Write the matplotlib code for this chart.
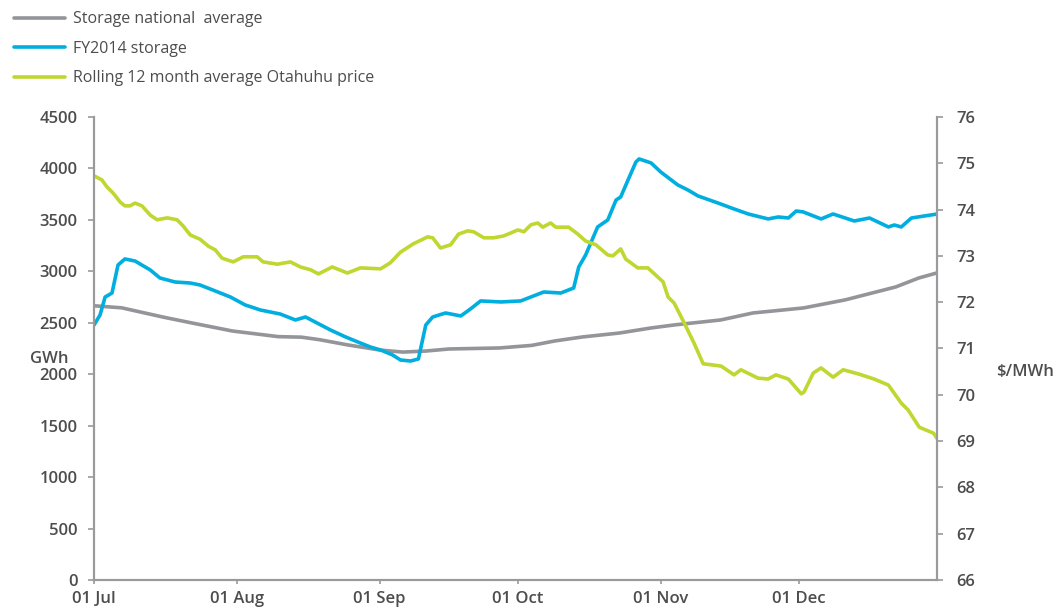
import pandas as pd
import matplotlib
matplotlib.use("Agg")
import matplotlib.pyplot as plt
import matplotlib.dates as mdates

plt.rcParams['font.family'] = ['Open Sans', 'DejaVu Sans']

start = pd.Timestamp('2013-07-01')

# storage national average (GWh)
avg_days = [0, 6, 15, 21, 30, 40, 45, 49, 55, 62, 67, 72, 77, 88, 95, 100, 106, 114,
            121, 126, 136, 143, 154, 163, 174, 179, 183]
avg_gwh = [2665, 2645, 2555, 2500, 2420, 2365, 2360, 2335, 2285, 2235, 2215, 2225, 2245,
           2255, 2280, 2323, 2362, 2400, 2450, 2479, 2527, 2595, 2644, 2722, 2848, 2935, 2985]

# FY2014 storage (GWh)
fy_days = [0, 1.3, 2.4, 3.9, 5.2, 6.7, 8.9, 12.2, 14.3, 17.6, 20.9, 23, 26.3, 29.6, 32.8,
           36.1, 40.4, 43.7, 45.9, 48, 51.3, 54.6, 57.8, 60, 62.2, 64.8, 66.5, 68.7, 70.4,
           72, 73.5, 76.3, 79.6, 81.7, 83.9, 88.3, 92.6, 97.6, 101.3, 104.1, 105.2, 106.7,
           109.3, 111.5, 113.3, 114.3, 115.9, 117.6, 118.3, 120.9, 123, 126.7, 128.9, 131.1,
           135.4, 138.9, 142, 146.3, 148.5, 150.7, 152.4, 153.9, 157.8, 160.4, 165, 168.3,
           172.4, 173.7, 175.2, 177.4, 183]
fy_gwh = [2478, 2575, 2750, 2789, 3061, 3120, 3100, 3013, 2935, 2896, 2886, 2867, 2809,
          2750, 2673, 2624, 2585, 2527, 2556, 2507, 2430, 2362, 2303, 2264, 2235, 2187,
          2138, 2128, 2148, 2478, 2556, 2595, 2566, 2634, 2712, 2702, 2712, 2799, 2789,
          2838, 3042, 3159, 3431, 3499, 3693, 3722, 3888, 4062, 4092, 4053, 3965, 3839,
          3790, 3732, 3664, 3606, 3557, 3509, 3528, 3518, 3586, 3577, 3509, 3557, 3489,
          3518, 3431, 3450, 3431, 3518, 3557]

# rolling 12 month average Otahuhu price ($/MWh)
px_days = [0, 1.7, 2.8, 4.1, 5.7, 6.7, 7.8, 8.9, 10.4, 12.2, 13.7, 15.9, 18, 19.3, 20.9,
           23, 24.8, 26.3, 27.8, 30.2, 32.4, 35.4, 36.7, 39.8, 42.6, 44.8, 47, 48.7, 51.7,
           55, 57.8, 62.2, 64.3, 66.5, 69.3, 72.4, 73.5, 75.2, 77.4, 79.1, 81.1, 82.4, 84.6,
           86.7, 88.9, 92, 93.3, 94.8, 96.3, 97.4, 99.1, 100.2, 103, 105, 106.7, 108.9,
           111.5, 112.6, 114.3, 115.4, 118, 120.2, 123.5, 124.6, 125.9, 128, 130.2, 132.2,
           136.1, 138.9, 140.4, 144.1, 146.3, 148, 150.7, 153.5, 154.1, 156.1, 157.8, 160.4,
           162.6, 165.9, 169.3, 172.4, 175.2, 176.7, 179.1, 182.2, 183]
px_val = [74.73, 74.64, 74.49, 74.36, 74.16, 74.08, 74.08, 74.14, 74.08, 73.88, 73.78,
          73.82, 73.78, 73.65, 73.45, 73.36, 73.21, 73.13, 72.95, 72.87, 72.98, 72.98,
          72.87, 72.82, 72.87, 72.76, 72.70, 72.61, 72.76, 72.63, 72.74, 72.72, 72.85,
          73.08, 73.26, 73.41, 73.39, 73.17, 73.24, 73.47, 73.54, 73.52, 73.39, 73.39,
          73.43, 73.56, 73.52, 73.67, 73.71, 73.62, 73.71, 73.62, 73.62, 73.47, 73.32,
          73.24, 73.02, 73.00, 73.15, 72.93, 72.74, 72.74, 72.44, 72.11, 71.98, 71.57,
          71.12, 70.67, 70.62, 70.43, 70.54, 70.36, 70.34, 70.43, 70.34, 70.02, 70.06,
          70.47, 70.58, 70.38, 70.54, 70.45, 70.34, 70.21, 69.82, 69.67, 69.30, 69.17, 69.05]

month_ticks = ['2013-07-01', '2013-08-01', '2013-09-01', '2013-10-01', '2013-11-01', '2013-12-01']


def to_dates(days):
    return start + pd.to_timedelta(days, unit='D')


txt = '#4d4d4f'
axc = '#9a9a9c'

fig = plt.figure(figsize=(10.59, 6.12), dpi=100)
ax = fig.add_axes([0.0888, 0.0523, 0.7962, 0.7566])
ax2 = ax.twinx()

l1, = ax.plot(to_dates(avg_days), avg_gwh, color='#939598', lw=2.6, solid_capstyle='round')
l2, = ax.plot(to_dates(fy_days), fy_gwh, color='#00aee0', lw=2.6, solid_capstyle='round')
l3, = ax2.plot(to_dates(px_days), px_val, color='#bfd730', lw=2.6, solid_capstyle='round')

ax.set_xlim(start, start + pd.Timedelta(days=183))
ax.set_ylim(0, 4500)
ax.set_yticks(range(0, 4501, 500))
ax2.set_ylim(66, 76)
ax2.set_yticks(range(66, 77))

ax.set_xticks(pd.to_datetime(month_ticks))
ax.xaxis.set_major_formatter(mdates.DateFormatter('%d %b'))

for a in (ax, ax2):
    a.spines['top'].set_visible(False)
    for s in ('left', 'right', 'bottom'):
        a.spines[s].set_color(axc)
        a.spines[s].set_linewidth(1.5)
    a.tick_params(colors=axc, labelcolor=txt, labelsize=12, width=1.2, length=4)
    for lab in a.get_yticklabels() + a.get_xticklabels():
        lab.set_fontweight('semibold')
ax.tick_params(axis='x', length=3, pad=5)
ax.tick_params(axis='y', pad=8)
ax2.tick_params(axis='y', pad=10)

ax.text(-0.076, 0.478, 'GWh', transform=ax.transAxes, fontsize=12, color=txt,
        fontweight='semibold', ha='left', va='center')
ax2.text(1.07, 0.45, '$/MWh', transform=ax.transAxes, fontsize=12, color=txt,
         fontweight='semibold', ha='left', va='center')

fig.legend([l1, l2, l3], ['Storage national  average', 'FY2014 storage',
                          'Rolling 12 month average Otahuhu price'],
           loc='upper left', bbox_to_anchor=(0.0, 1.005), frameon=False, fontsize=11.5,
           labelcolor=txt, handlelength=3.2, labelspacing=0.85, handletextpad=0.45)

fig.savefig('out.png', dpi=100)
